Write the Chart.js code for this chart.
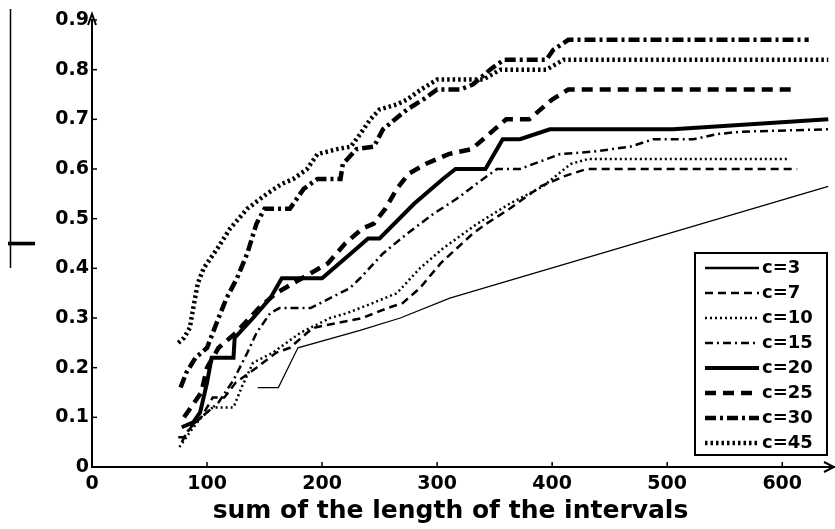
<!DOCTYPE html>
<html>
<head>
    <title>Sum of the length of the intervals</title>
    <style>
        body { margin: 0; background: #fff; }
        #chart-container { width: 835px; height: 529px; }
    </style>
</head>
<body>
    <div id="chart-container">
        <canvas id="myChart" width="835" height="529"></canvas>
    </div>

    <script src="https://cdn.jsdelivr.net/npm/chart.js"></script>
    <script>
        // Axis ticks
        const xTicks = [0, 100, 200, 300, 400, 500, 600];
        const yTicks = [0, 0.1, 0.2, 0.3, 0.4, 0.5, 0.6, 0.7, 0.8, 0.9];

        // Series names (legend order)
        const seriesNames = ['c=3', 'c=7', 'c=10', 'c=15', 'c=20', 'c=25', 'c=30', 'c=45'];

        // Values
        const c3X = [144, 162, 179, 233, 268, 311, 640];
        const c3Y = [0.16, 0.16, 0.24, 0.275, 0.30, 0.34, 0.565];

        const c7X = [75, 80, 86, 95, 105, 115, 125, 143, 160, 172, 192, 213, 235, 257, 270, 285, 303, 317, 331, 343, 363, 390, 410, 430, 613];
        const c7Y = [0.06, 0.06, 0.08, 0.10, 0.14, 0.14, 0.17, 0.20, 0.23, 0.24, 0.28, 0.29, 0.30, 0.32, 0.33, 0.36, 0.41, 0.44, 0.47, 0.49, 0.52, 0.565, 0.585, 0.60, 0.60];

        const c10X = [76, 85, 95, 105, 123, 130, 140, 157, 181, 207, 222, 244, 265, 285, 305, 335, 363, 392, 416, 431, 604];
        const c10Y = [0.04, 0.07, 0.10, 0.12, 0.12, 0.16, 0.21, 0.23, 0.27, 0.30, 0.31, 0.33, 0.35, 0.40, 0.44, 0.49, 0.53, 0.565, 0.61, 0.62, 0.62];

        const c15X = [78, 85, 95, 110, 123, 135, 143, 155, 163, 190, 207, 224, 233, 253, 274, 297, 317, 340, 352, 372, 407, 436, 468, 488, 523, 543, 563, 640];
        const c15Y = [0.05, 0.08, 0.10, 0.13, 0.175, 0.23, 0.27, 0.31, 0.32, 0.32, 0.34, 0.36, 0.38, 0.43, 0.47, 0.51, 0.54, 0.58, 0.60, 0.60, 0.63, 0.635, 0.645, 0.66, 0.66, 0.67, 0.675, 0.68];

        const c20X = [78, 88, 94, 100, 104, 123, 124, 140, 155, 165, 200, 225, 240, 250, 280, 305, 316, 342, 357, 372, 398, 505, 640];
        const c20Y = [0.08, 0.09, 0.11, 0.17, 0.22, 0.22, 0.26, 0.30, 0.34, 0.38, 0.38, 0.43, 0.46, 0.46, 0.53, 0.58, 0.60, 0.60, 0.66, 0.66, 0.68, 0.68, 0.70];

        const c25X = [80, 95, 100, 110, 125, 145, 160, 175, 190, 205, 220, 235, 245, 255, 265, 275, 290, 310, 330, 345, 360, 380, 400, 414, 609];
        const c25Y = [0.10, 0.15, 0.20, 0.24, 0.27, 0.32, 0.35, 0.37, 0.39, 0.41, 0.45, 0.48, 0.49, 0.52, 0.56, 0.59, 0.61, 0.63, 0.64, 0.67, 0.70, 0.70, 0.74, 0.76, 0.76];

        const c30X = [77, 82, 90, 100, 105, 110, 117, 126, 135, 143, 150, 172, 184, 196, 216, 218, 230, 245, 253, 274, 288, 300, 320, 331, 346, 358, 395, 401, 414, 623];
        const c30Y = [0.16, 0.19, 0.22, 0.24, 0.27, 0.30, 0.34, 0.38, 0.43, 0.49, 0.52, 0.52, 0.56, 0.58, 0.58, 0.61, 0.64, 0.645, 0.68, 0.72, 0.74, 0.76, 0.76, 0.77, 0.80, 0.82, 0.82, 0.84, 0.86, 0.86];

        const c45X = [75, 80, 85, 88, 92, 97, 109, 120, 135, 152, 165, 175, 187, 196, 213, 225, 233, 242, 250, 265, 274, 286, 300, 340, 355, 395, 410, 640];
        const c45Y = [0.25, 0.26, 0.28, 0.32, 0.37, 0.40, 0.44, 0.48, 0.52, 0.55, 0.57, 0.58, 0.60, 0.63, 0.64, 0.645, 0.67, 0.70, 0.72, 0.73, 0.74, 0.76, 0.78, 0.78, 0.80, 0.80, 0.82, 0.82];

        const allX = [c3X, c7X, c10X, c15X, c20X, c25X, c30X, c45X];
        const allY = [c3Y, c7Y, c10Y, c15Y, c20Y, c25Y, c30Y, c45Y];

        // Line styles (thin for c<=15, thick for c>=20)
        const lineWidths = [1.2, 2.5, 2.5, 2.5, 4, 4.5, 4.5, 4.5];
        const lineDashes = [[], [8, 5], [2, 3], [8, 4, 2, 4], [], [11, 7], [11, 4, 3, 4], [2.5, 3]];

        const tickFont = { family: 'DejaVu Sans', weight: 'bold', size: 19 };

        const datasets = seriesNames.map((name, i) => ({
            label: name,
            data: allX[i].map((x, j) => ({ x: x, y: allY[i][j] })),
            borderColor: '#000',
            borderWidth: lineWidths[i],
            borderDash: lineDashes[i],
            pointRadius: 0,
            tension: 0,
            fill: false
        }));

        // Axis arrows, inward ticks, left border and boxed legend
        const decorPlugin = {
            id: 'decor',
            afterDatasetsDraw(chart) {
                const ctx = chart.ctx;
                const area = chart.chartArea;
                const xs = chart.scales.x;
                const ys = chart.scales.y;
                ctx.save();
                ctx.strokeStyle = '#000';
                ctx.fillStyle = '#000';
                ctx.setLineDash([]);
                ctx.lineWidth = 1.5;

                // inward tick marks
                xTicks.forEach(v => {
                    const px = xs.getPixelForValue(v);
                    ctx.beginPath();
                    ctx.moveTo(px, area.bottom);
                    ctx.lineTo(px, area.bottom - 5);
                    ctx.stroke();
                });
                yTicks.forEach(v => {
                    const py = ys.getPixelForValue(v);
                    ctx.beginPath();
                    ctx.moveTo(area.left, py);
                    ctx.lineTo(area.left + 5, py);
                    ctx.stroke();
                });

                // arrow heads
                ctx.lineWidth = 2;
                ctx.beginPath();
                ctx.moveTo(area.left - 4, area.top + 5);
                ctx.lineTo(area.left, area.top - 6);
                ctx.lineTo(area.left + 4, area.top + 5);
                ctx.stroke();
                ctx.beginPath();
                ctx.moveTo(area.right - 10, area.bottom - 5);
                ctx.lineTo(area.right, area.bottom);
                ctx.lineTo(area.right - 10, area.bottom + 5);
                ctx.stroke();

                // thin border line on the far left
                ctx.lineWidth = 1.5;
                ctx.beginPath();
                ctx.moveTo(10.5, 9);
                ctx.lineTo(10.5, 268);
                ctx.stroke();

                // legend box
                const boxW = 132, boxH = 202;
                const bx = area.right - 7 - boxW;
                const by = area.bottom - 12 - boxH;
                ctx.fillStyle = '#fff';
                ctx.fillRect(bx, by, boxW, boxH);
                ctx.lineWidth = 2;
                ctx.strokeRect(bx, by, boxW, boxH);

                ctx.font = 'bold 18px "DejaVu Sans"';
                ctx.textBaseline = 'middle';
                ctx.fillStyle = '#000';
                chart.data.datasets.forEach((ds, i) => {
                    const ry = by + 15 + i * 25;
                    ctx.lineWidth = Math.max(ds.borderWidth, 2.5);
                    ctx.setLineDash(ds.borderDash);
                    ctx.beginPath();
                    ctx.moveTo(bx + 10, ry);
                    ctx.lineTo(bx + 64, ry);
                    ctx.stroke();
                    ctx.setLineDash([]);
                    ctx.fillText(ds.label, bx + 67, ry);
                });
                ctx.restore();
            }
        };

        const ctx = document.getElementById('myChart').getContext('2d');
        const myChart = new Chart(ctx, {
            type: 'line',
            data: { datasets: datasets },
            options: {
                responsive: false,
                animation: false,
                devicePixelRatio: 1,
                layout: { padding: { top: 20, right: 1, left: 0, bottom: 0 } },
                plugins: {
                    legend: { display: false },
                    tooltip: { enabled: false }
                },
                scales: {
                    x: {
                        type: 'linear',
                        min: 0,
                        max: 645,
                        afterBuildTicks: axis => { axis.ticks = xTicks.map(v => ({ value: v })); },
                        afterFit: scale => { scale.height = 62; },
                        grid: { display: false, drawTicks: false },
                        border: { display: true, color: '#000', width: 2 },
                        ticks: { color: '#000', font: tickFont, padding: 6, maxRotation: 0, autoSkip: false },
                        title: {
                            display: true,
                            // trailing em space nudges the centred label a little left
                            text: 'sum of the length of the intervals\u2003',
                            color: '#000',
                            font: { family: 'DejaVu Sans', weight: 'bold', size: 25 },
                            padding: { top: 0, bottom: 3 }
                        }
                    },
                    y: {
                        min: 0,
                        max: 0.9,
                        afterBuildTicks: axis => { axis.ticks = yTicks.map(v => ({ value: v })); },
                        afterFit: scale => { scale.width = 92; },
                        grid: { display: false, drawTicks: false },
                        border: { display: true, color: '#000', width: 2 },
                        ticks: {
                            color: '#000',
                            font: tickFont,
                            padding: 3,
                            autoSkip: false,
                            callback: v => (v === 0 ? '0' : v.toFixed(1))
                        },
                        title: {
                            display: true,
                            text: 'I',
                            color: '#000',
                            font: { family: 'DejaVu Sans', size: 37, lineHeight: 1 },
                            padding: { top: 7, bottom: 0 }
                        }
                    }
                }
            },
            plugins: [decorPlugin]
        });
    </script>
</body>
</html>
